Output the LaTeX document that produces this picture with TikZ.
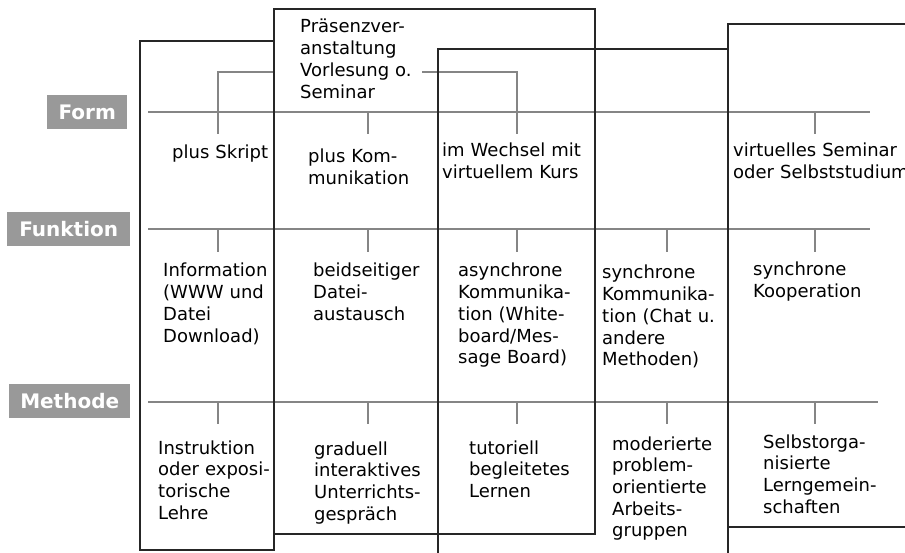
\documentclass[tikz,border=0pt]{standalone}
\usepackage{fontspec}
\setmainfont{DejaVu Sans}
\definecolor{linegray}{gray}{0.52}
\definecolor{labgray}{gray}{0.6}
\definecolor{framecol}{gray}{0.15}
\hyphenpenalty=10000
\begin{document}
\begin{tikzpicture}[x=1pt,y=-1pt,
  frame/.style={draw=framecol, line width=1.3pt},
  rowline/.style={draw=linegray, line width=2.8pt},
  tickline/.style={draw=linegray, line width=2.6pt},
  lab/.style={fill=labgray, text=white, font=\fontsize{20}{24}\selectfont\bfseries,
              inner sep=0pt, minimum height=34pt, anchor=north west},
  txt/.style={anchor=base west, inner sep=0pt, text width=240pt, align=left,
              font=\fontsize{18}{21.7}\selectfont, text=black}
]
\useasboundingbox (0,0) rectangle (905,553);

% row labels
\node[lab, minimum width=80pt]  (lform) at (47,95)  {Form};
\node[lab, minimum width=123pt] (lfunk) at (7,212)  {Funktion};
\node[lab, minimum width=121pt] (lmeth) at (9,384)  {Methode};

% row lines
\coordinate (fa) at (148,112); \coordinate (fb) at (870,112);
\coordinate (ka) at (148,229); \coordinate (kb) at (870,229);
\coordinate (ma) at (148,402); \coordinate (mb) at (878,402);
\draw[rowline] (fa) -- (fb);
\draw[rowline] (ka) -- (kb);
\draw[rowline] (ma) -- (mb);

% texts
\node[txt] (praes) at (300,33) {Präsenzver-\\anstaltung\\Vorlesung o.\\Seminar};
\node[txt] (skript) at (172,159) {plus Skript};
\node[txt] (komm) at (308,163) {plus Kom-\\munikation};
\node[txt] (wechsel) at (442,157) {im Wechsel mit\\virtuellem Kurs};
\node[txt] (virt) at (733,157) {virtuelles Seminar\\oder Selbststudium};

\node[txt] (info) at (163,277) {Information\\(WWW und\\Datei\\Download)};
\node[txt] (datei) at (313,277) {beidseitiger\\Datei-\\austausch};
\node[txt] (async) at (458,277) {asynchrone\\Kommunika-\\tion (White-\\board/Mes-\\sage Board)};
\node[txt] (sync) at (602,279) {synchrone\\Kommunika-\\tion (Chat u.\\andere\\Methoden)};
\node[txt] (koop) at (753,276) {synchrone\\Kooperation};

\node[txt] (instr) at (158,454) {Instruktion\\oder exposi-\\torische\\Lehre};
\node[txt] (grad) at (314,455) {graduell\\interaktives\\Unterrichts-\\gespräch};
\node[txt] (tutor) at (469,454) {tutoriell\\begleitetes\\Lernen};
\node[txt] (moder) at (612,450) {moderierte\\problem-\\orientierte\\Arbeits-\\gruppen};
\node[txt] (selbst) at (763,448) {Selbstorga-\\nisierte\\Lerngemein-\\schaften};

% Form ticks and brackets
\coordinate (bl) at (274,72);
\coordinate (br) at (422,72);
\draw[tickline] (bl) -| (218,134);
\draw[tickline] (br) -| (517,134);
\draw[tickline] (368,112) -- (368,134);
\draw[tickline] (815,112) -- (815,134);

% Funktion ticks
\foreach \x in {218,368,517,667,815} \draw[tickline] (\x,229) -- (\x,252);
% Methode ticks
\foreach \x in {218,368,517,667,815} \draw[tickline] (\x,402) -- (\x,424);

% frames
\draw[frame] (140,41) rectangle (274,550);
\draw[frame] (274,9) rectangle (595,534);
\draw[frame] (438,49) rectangle (728,600);
\draw[frame] (728,24) rectangle (960,527);
\end{tikzpicture}
\end{document}
